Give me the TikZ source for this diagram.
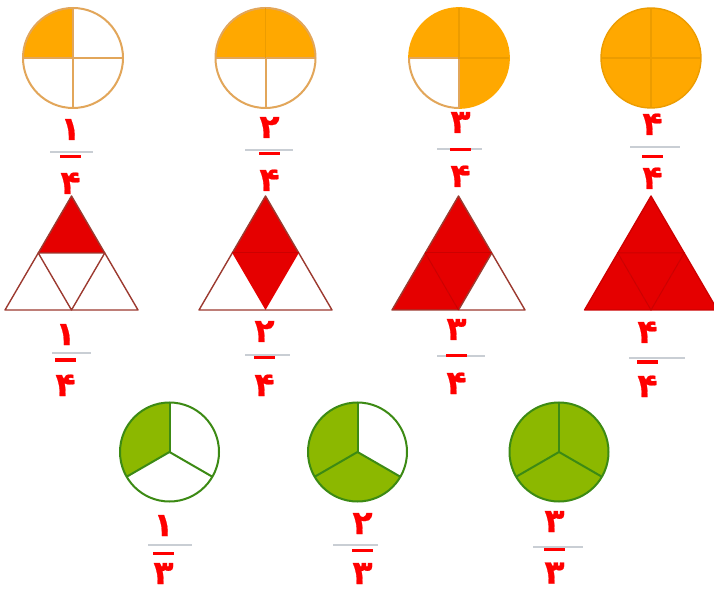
\documentclass[tikz,border=0pt]{standalone}
\usepackage{fontspec}
\newfontfamily\fafont[Script=Arabic,BoldFeatures={FakeBold=0.6}]{DejaVu Sans}
\definecolor{orf}{HTML}{FFA800}
\definecolor{orl}{HTML}{E2A65A}
\definecolor{orin}{HTML}{EC9C00}
\definecolor{rdf}{HTML}{E50000}
\definecolor{rdl}{HTML}{9C3A30}
\definecolor{rdin}{HTML}{CC0000}
\definecolor{grf}{HTML}{8CB800}
\definecolor{grl}{HTML}{3C8A14}
\definecolor{dig}{HTML}{FF0000}
\definecolor{barg}{HTML}{C9CED4}
\tikzset{
  digit/.style={text=dig,font=\fafont\bfseries\fontsize{33}{33}\selectfont,inner sep=0pt,anchor=base},
  redbar/.style={draw=dig,line width=3pt},
  graybar/.style={draw=barg,line width=1.6pt},
  orline/.style={draw=orl,line width=2pt},
  orinner/.style={draw=orin,line width=1.6pt},
  trline/.style={draw=rdl,line width=1.4pt,line join=round},
  trinner/.style={draw=rdin,line width=1pt},
  grline/.style={draw=grl,line width=2pt},
}
\begin{document}
\begin{tikzpicture}[x=1pt,y=1pt]
\useasboundingbox[fill=white] (0,0) rectangle (714,592);
% ---------- top row: orange circles ----------
\def\R{50pt}
% circle 1 : 1/4
\coordinate (c1) at (73,534);
\fill[orf] (c1) -- ++(180:\R) arc[start angle=180,end angle=90,radius=\R] -- cycle;
\draw[orline] (c1) circle[radius=\R];
\draw[orline] ([xshift=-50pt]c1) -- ([xshift=50pt]c1);
\draw[orline] ([yshift=-50pt]c1) -- ([yshift=50pt]c1);
% circle 2 : 2/4
\coordinate (c2) at (265.5,534);
\fill[orf] (c2) -- ++(180:\R) arc[start angle=180,end angle=0,radius=\R] -- cycle;
\draw[orline] (c2) circle[radius=\R];
\draw[orline] ([xshift=-50pt]c2) -- ([xshift=50pt]c2);
\draw[orline] ([yshift=-50pt]c2) -- (c2);
\draw[orinner] (c2) -- ([yshift=50pt]c2);
% circle 3 : 3/4
\coordinate (c3) at (459,534);
\fill[orf] (c3) -- ++(180:\R) arc[start angle=180,end angle=-90,radius=\R] -- cycle;
\draw[orline] (c3) ++(180:\R) arc[start angle=180,end angle=270,radius=\R];
\draw[draw=orf,line width=1.8pt] (c3) ++(270:\R) arc[start angle=270,end angle=540,radius=\R];
\draw[orline] ([xshift=-50pt]c3) -- (c3) -- ([yshift=-50pt]c3);
\draw[orinner] ([xshift=50pt]c3) -- (c3) -- ([yshift=50pt]c3);
% circle 4 : 4/4
\coordinate (c4) at (651,534);
\fill[orf] (c4) circle[radius=\R];
\draw[draw=orin,line width=1.4pt] (c4) circle[radius=\R];
\draw[orinner] ([xshift=-50pt]c4) -- ([xshift=50pt]c4);
\draw[orinner] ([yshift=-50pt]c4) -- ([yshift=50pt]c4);
% ---------- middle row: red triangles ----------
\foreach \i/\xc/\k in {1/71.5/1,2/265.5/2,3/458.5/3,4/651/4}{
  \coordinate (A\i) at (\xc,396);
  \coordinate (BL\i) at (\xc-66.5,282);
  \coordinate (BR\i) at (\xc+66.5,282);
  \coordinate (ML\i) at (\xc-33.25,339);
  \coordinate (MR\i) at (\xc+33.25,339);
  \coordinate (MB\i) at (\xc,282);
  \fill[rdf] (A\i) -- (ML\i) -- (MR\i) -- cycle;
  \ifnum\k>1 \fill[rdf] (ML\i) -- (MR\i) -- (MB\i) -- cycle; \fi
  \ifnum\k>2 \fill[rdf] (BL\i) -- (ML\i) -- (MB\i) -- cycle; \fi
  \ifnum\k>3 \fill[rdf] (MR\i) -- (BR\i) -- (MB\i) -- cycle; \fi
}
% triangle 1
\draw[trline] (A1) -- (BR1) -- (BL1) -- cycle;
\draw[trline] (ML1) -- (MR1) -- (MB1) -- cycle;
% triangle 2
\draw[trline] (A2) -- (BR2) -- (BL2) -- cycle;
\draw[trinner] (ML2) -- (MR2);
% triangle 3
\draw[trline] (A3) -- (BR3) -- (BL3) -- cycle;
\draw[trline] (MR3) -- (MB3);
\draw[trinner] (ML3) -- (MR3);
\draw[trinner] (ML3) -- (MB3);
% triangle 4
\draw[draw=rdin,line width=1.3pt,line join=round] (A4) -- (BR4) -- (BL4) -- cycle;
\draw[trinner] (ML4) -- (MR4) -- (MB4) -- cycle;
% ---------- bottom row: green circles ----------
\def\G{49.5pt}
\foreach \i/\xc in {1/169.5,2/357.5,3/559}{ \coordinate (g\i) at (\xc,140); }
\fill[grf] (g1) -- ++(90:\G) arc[start angle=90,end angle=210,radius=\G] -- cycle;
\fill[grf] (g2) -- ++(90:\G) arc[start angle=90,end angle=330,radius=\G] -- cycle;
\fill[grf] (g3) circle[radius=\G];
\foreach \i in {1,2,3}{
  \draw[grline] (g\i) circle[radius=\G];
  \draw[grline] (g\i) -- ++(90:\G);
  \draw[grline] (g\i) -- ++(210:\G);
  \draw[grline] (g\i) -- ++(330:\G);
}
% ---------- fraction labels ----------
\foreach \n/\xc/\yn/\yd/\yr/\yg/\ga/\gb/\tn/\td in {
  a/70.5/452/398/435/440/50/93/۱/۴,
  b/269.5/454/401/438/442/245/293/۲/۴,
  c/460.5/459/405/442/443/437/482/۳/۴,
  d/652.5/457/403/435/445/630/680/۴/۴,
  e/65.5/247/196/232/239/52/91/۱/۴,
  f/264.5/250/196/234/237/245/290/۲/۴,
  g/456.5/252/198/236/236/437/485/۳/۴,
  h/647.5/249/195/230/234/629/685/۴/۴,
  i/163.5/56/8/39/47/148/192/۱/۳,
  j/362.5/58/8/42/47/333/378/۲/۳,
  k/554.5/60/8.5/43/45/533/583/۳/۳}{
  \coordinate (gl\n) at (\ga,\yg);
  \coordinate (gr\n) at (\gb,\yg);
  \draw[graybar] (gl\n) -- (gr\n);
  \coordinate (rl\n) at (\xc-10.5,\yr);
  \coordinate (rr\n) at (\xc+10.5,\yr);
  \draw[redbar] (rl\n) -- (rr\n);
  \node[digit] (num\n) at (\xc,\yn) {\tn};
  \node[digit] (den\n) at (\xc,\yd) {\td};
}
\end{tikzpicture}
\end{document}
